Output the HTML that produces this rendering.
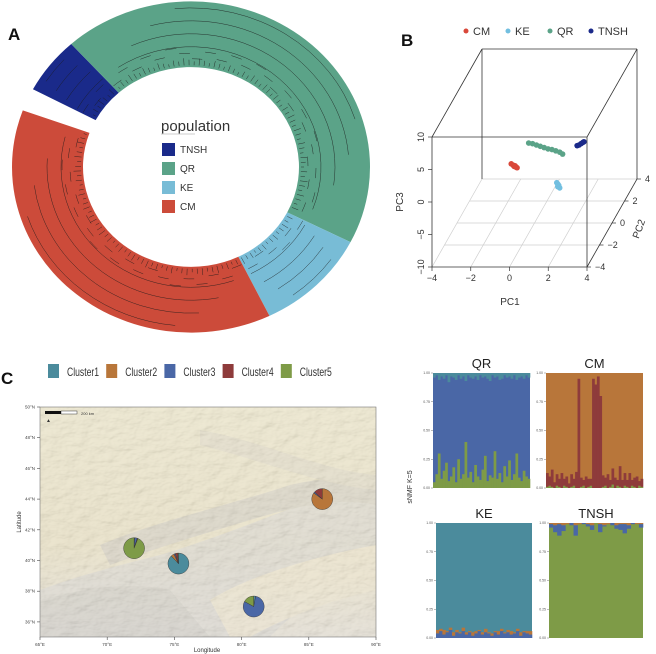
<!DOCTYPE html>
<html><head><meta charset="utf-8"><style>
html,body{margin:0;padding:0;background:#fff;}
body{width:656px;height:654px;position:relative;overflow:hidden;font-family:"Liberation Sans",Arial,sans-serif;}
svg{position:absolute;left:0;top:0;}
</style></head><body>
<svg id="fig" width="656" height="654" viewBox="0 0 656 654" xmlns="http://www.w3.org/2000/svg">
<defs>
<filter id="relief" x="0" y="0" width="100%" height="100%">
<feTurbulence type="fractalNoise" baseFrequency="0.07 0.12" numOctaves="3" seed="4" result="n"/>
<feDiffuseLighting in="n" surfaceScale="2.5" lighting-color="#ffffff" result="l"><feDistantLight azimuth="225" elevation="55"/></feDiffuseLighting>
<feComposite in="l" in2="SourceGraphic" operator="in"/>
</filter>
<linearGradient id="mapg" x1="0" y1="0" x2="0" y2="1">
<stop offset="0" stop-color="#ebe5cb"/><stop offset="0.6" stop-color="#e7dfc4"/><stop offset="1" stop-color="#e2ddd2"/>
</linearGradient>
</defs>
<g id="panelA"></g>
<g id="panelB"></g>
<g id="panelC"></g>
<g id="panelD"></g>
</svg>
<script>
// ---------- data ----------
const popNames = ["TNSH","QR","KE","CM"];
const popColors = ["#1a2a8a","#5ba388","#78bcd6","#cc4b3a"];
const popStartDeg = [298,318,477,514];
const popEndDeg = [318,477,514,650];

const pcaGroups = ["CM","KE","QR","TNSH"];
const pcaColors = ["#d9483a","#72bfe0","#5ba388","#1b2a8a"];
const cmPC1 = [-1.2,-1.1,-1.0,-0.95,-0.9,-1.05];
const cmPC3 = [-0.9,-1.1,-1.2,-1.4,-1.5,-1.3];
const kePC1 = [1.15,1.2,1.25,1.2,1.3];
const kePC3 = [-3.8,-4.0,-4.2,-4.4,-4.6];
const qrPC1 = [-0.3,-0.1,0.1,0.3,0.5,0.7,0.9,1.1,1.3,1.45];
const qrPC3 = [2.3,2.2,2.0,1.8,1.6,1.4,1.3,1.1,0.9,0.6];
const tnPC1 = [2.2,2.3,2.4,2.5,2.55];
const tnPC3 = [1.9,2.0,2.2,2.4,2.5];

const clusterNames = ["Cluster1","Cluster2","Cluster3","Cluster4","Cluster5"];
const clusterColors = ["#4b8b9c","#b8763a","#4a67a6","#8e3b3b","#7e9b47"];
const siteLon = [72.0,75.3,80.9,86.0];
const siteLat = [40.8,39.8,37.0,44.0];
const siteC1 = [0.01,0.88,0.03,0.0];
const siteC2 = [0.0,0.05,0.0,0.85];
const siteC3 = [0.04,0.02,0.80,0.02];
const siteC4 = [0.01,0.04,0.0,0.13];
const siteC5 = [0.94,0.01,0.17,0.0];
const lonTicks = [65,70,75,80,85,90];
const latTicks = [36,38,40,42,44,46,48,50];

const qrGreen = [0.05,0.12,0.3,0.08,0.15,0.22,0.06,0.1,0.18,0.05,0.25,0.08,0.12,0.4,0.09,0.14,0.05,0.2,0.1,0.07,0.16,0.28,0.06,0.11,0.09,0.32,0.08,0.13,0.05,0.19,0.1,0.24,0.07,0.12,0.3,0.09,0.06,0.15,0.1,0.08];
const qrTeal = [0.04,0.02,0.06,0.03,0.05,0.02,0.08,0.03,0.04,0.06,0.02,0.05,0.03,0.07,0.02,0.04,0.05,0.03,0.06,0.02,0.04,0.03,0.05,0.07,0.02,0.04,0.03,0.06,0.05,0.02,0.04,0.03,0.05,0.02,0.06,0.04,0.03,0.05,0.02,0.04];
const cmRed = [0.12,0.08,0.15,0.05,0.1,0.07,0.13,0.06,0.09,0.04,0.11,0.06,0.14,0.95,0.08,0.05,0.1,0.07,0.06,0.95,0.9,0.97,0.8,0.1,0.07,0.12,0.06,0.14,0.09,0.05,0.18,0.07,0.11,0.06,0.13,0.05,0.08,0.1,0.04,0.07];
const cmGreen = [0.01,0.02,0.01,0.0,0.02,0.01,0.0,0.02,0.01,0.0,0.01,0.02,0.0,0.0,0.01,0.02,0.0,0.01,0.02,0.0,0.0,0.0,0.0,0.01,0.02,0.0,0.01,0.03,0.0,0.02,0.01,0.0,0.02,0.01,0.0,0.02,0.01,0.0,0.02,0.01];
const keBlue = [0.04,0.06,0.03,0.05,0.07,0.02,0.05,0.04,0.06,0.03,0.05,0.02,0.04,0.06,0.03,0.05,0.04,0.02,0.05,0.03,0.06,0.04,0.05,0.03,0.04,0.06,0.02,0.05,0.04,0.03];
const keOrange = [0.03,0.02,0.04,0.01,0.02,0.03,0.02,0.01,0.03,0.02,0.01,0.03,0.02,0.01,0.02,0.03,0.01,0.02,0.01,0.03,0.02,0.01,0.02,0.03,0.01,0.02,0.03,0.01,0.02,0.03];
const tnBlue = [0.03,0.06,0.1,0.05,0.0,0.02,0.09,0.0,0.01,0.02,0.04,0.0,0.07,0.01,0.0,0.02,0.03,0.05,0.08,0.03,0.01,0.0,0.03];
const tnOrange = [0.01,0.02,0.01,0.02,0.01,0.0,0.02,0.01,0.0,0.01,0.02,0.0,0.01,0.02,0.01,0.0,0.02,0.01,0.01,0.02,0.0,0.01,0.01];

// ---------- helpers ----------
const NS="http://www.w3.org/2000/svg";
function mk(tag,attrs,parent){const e=document.createElementNS(NS,tag);for(const k in attrs)e.setAttribute(k,attrs[k]);if(parent)parent.appendChild(e);return e;}
function txt(parent,x,y,s,size,extra){const t=mk('text',Object.assign({x:x,y:y,'font-size':size,'font-family':'Liberation Sans, Arial, sans-serif',fill:'#222'},extra||{}),parent);t.textContent=s;return t;}

// ---------- Panel A ----------
const A=document.getElementById('panelA');
let lab=txt(A,8,40,"A",17,{'font-weight':'bold',fill:'#111'});


const ring=mk('g',{transform:'translate(191,167) scale(1,0.925)'},A);
const Ro=179,Ri=108;
function pt(r,d){const a=d*Math.PI/180;return [r*Math.sin(a),-r*Math.cos(a)];}
function sector(r1,r2,d1,d2){const la=(d2-d1)>180?1:0;const p1=pt(r2,d1),p2=pt(r2,d2),p3=pt(r1,d2),p4=pt(r1,d1);
return `M${p1[0]},${p1[1]}A${r2},${r2} 0 ${la} 1 ${p2[0]},${p2[1]}L${p3[0]},${p3[1]}A${r1},${r1} 0 ${la} 0 ${p4[0]},${p4[1]}Z`;}
function arc(r,d1,d2){const la=(d2-d1)>180?1:0;const p1=pt(r,d1),p2=pt(r,d2);return `M${p1[0]},${p1[1]}A${r},${r} 0 ${la} 1 ${p2[0]},${p2[1]}`;}
for(let i=0;i<popNames.length;i++){
  const s=mk('path',{d:sector(Ri,Ro,popStartDeg[i],popEndDeg[i]),fill:popColors[i]},ring);
  
  
}
const tree=mk('g',{stroke:'#1a1a1a','stroke-width':0.5,fill:'none',opacity:0.85},ring);


for(let i=0;i<popNames.length;i++){
  const d1=popStartDeg[i],d2=popEndDeg[i],span=d2-d1;
  for(let k=0;k<4;k++){const r=Ri+22+k*14;const a1=d1+span*(0.05+0.06*k),a2=d2-span*(0.04+0.08*k);if(a2>a1)mk('path',{d:arc(r,a1,a2)},tree);}
  for(let a=d1+2;a<d2-1;a+=2.6){const p=pt(Ri+2,a),q=pt(Ri+5+((a*7)%5),a);mk('path',{d:`M${p[0]},${p[1]}L${q[0]},${q[1]}`},tree);}
  for(let a=d1+3;a<d2-2;a+=6){const r=Ri+8+((a*13)%14);mk('path',{d:arc(r,a-2.5,a+2.5)},tree);}
}
const leg=mk('g',{},A);


txt(leg,161,131,"population",15,{fill:'#333'});
mk('line',{x1:161,y1:134,x2:195,y2:134,stroke:'#ccc','stroke-width':1},leg);
for(let i=0;i<popNames.length;i++){
  const y=143+i*19;
  const r=mk('rect',{x:162,y:y,width:13,height:13,fill:popColors[i]},leg);
  
  
  txt(leg,180,y+10,popNames[i],10,{fill:'#333'});
}

// ---------- Panel B ----------
const B=document.getElementById('panelB');
lab=txt(B,401,46,"B",17,{'font-weight':'bold',fill:'#111'});


function px(pc1,pc2,pc3){return 432+(pc1+4)/8*155+(pc2+4)/8*50;}
function py(pc1,pc2,pc3){return 267-(pc3+10)/20*130-(pc2+4)/8*88;}
const grid=mk('g',{stroke:'#cfcfcf','stroke-width':0.7},B);


[-2,0,2].forEach(v=>mk('line',{x1:px(v,-4,-10),y1:py(v,-4,-10),x2:px(v,4,-10),y2:py(v,4,-10)},grid));
[-2,0,2].forEach(v=>mk('line',{x1:px(-4,v,-10),y1:py(-4,v,-10),x2:px(4,v,-10),y2:py(4,v,-10)},grid));
mk('line',{x1:px(-4,4,-10),y1:py(-4,4,-10),x2:px(4,4,-10),y2:py(4,4,-10)},grid);
mk('line',{x1:px(-4,-4,-10),y1:py(-4,-4,-10),x2:px(-4,4,-10),y2:py(-4,4,-10)},grid);
const box=mk('g',{stroke:'#333','stroke-width':0.8,fill:'none'},B);


function L(a,b){mk('line',{x1:px(...a),y1:py(...a),x2:px(...b),y2:py(...b)},box);}
L([-4,-4,-10],[4,-4,-10]);L([-4,-4,-10],[-4,-4,10]);L([4,-4,-10],[4,-4,10]);L([-4,-4,10],[4,-4,10]);
L([4,-4,-10],[4,4,-10]);L([-4,-4,10],[-4,4,10]);L([4,-4,10],[4,4,10]);L([-4,4,10],[4,4,10]);
L([4,4,-10],[4,4,10]);L([-4,4,-10],[-4,4,10]);
const ax=mk('g',{'font-size':9,fill:'#333'},B);
[-4,-2,0,2,4].forEach(v=>{const x=px(v,-4,-10),y=py(v,-4,-10);mk('line',{x1:x,y1:y,x2:x,y2:y+4,stroke:'#333','stroke-width':0.7},ax);txt(ax,x,y+14,v<0?'\u2212'+(-v):String(v),9,{'text-anchor':'middle',fill:'#333'});});
[-10,-5,0,5,10].forEach(v=>{const x=px(-4,-4,v),y=py(-4,-4,v);mk('line',{x1:x,y1:y,x2:x-4,y2:y,stroke:'#333','stroke-width':0.7},ax);txt(ax,0,0,v<0?'\u2212'+(-v):String(v),9,{'text-anchor':'middle',fill:'#333',transform:`translate(${x-8},${y}) rotate(-90)`});});
[-4,-2,0,2,4].forEach(v=>{const x=px(4,v,-10),y=py(4,v,-10);mk('line',{x1:x,y1:y,x2:x+4,y2:y,stroke:'#333','stroke-width':0.7},ax);txt(ax,x+8,y+3,v<0?'\u2212'+(-v):String(v),9,{fill:'#333'});});
txt(ax,510,305,"PC1",10,{'text-anchor':'middle',fill:'#333'});
txt(ax,0,0,"PC3",10,{'text-anchor':'middle',fill:'#333',transform:'translate(403,202) rotate(-90)'});
txt(ax,0,0,"PC2",10,{'text-anchor':'middle',fill:'#333',transform:'translate(642,230) rotate(-70)'});
const pcs=[[cmPC1,cmPC3],[kePC1,kePC3],[qrPC1,qrPC3],[tnPC1,tnPC3]];
for(let g=0;g<pcs.length;g++){
  const gg=mk('g',{fill:pcaColors[g]},B);
  
  
  for(let i=0;i<pcs[g][0].length;i++){mk('circle',{cx:px(pcs[g][0][i],0,pcs[g][1][i]),cy:py(pcs[g][0][i],0,pcs[g][1][i]),r:2.8},gg);}
  const lx=[466,508,550,591][g];
  const le=mk('g',{},B);
  
  
  mk('circle',{cx:lx,cy:31,r:2.5,fill:pcaColors[g]},le);
  txt(le,lx+7,35,pcaGroups[g],11,{fill:'#333'});
}

// ---------- Panel C map ----------
const M=document.getElementById('panelC');
lab=txt(M,1,384,"C",17,{'font-weight':'bold',fill:'#111'});


for(let i=0;i<5;i++){
  const x=48+i*58.2;
  const g=mk('g',{},M);
  
  
  mk('rect',{x:x,y:364,width:11,height:14,fill:clusterColors[i]},g);
  txt(g,x+19,376,clusterNames[i],12,{fill:'#333',textLength:32,lengthAdjust:'spacingAndGlyphs'});
}
const mx0=40,mx1=376,my0=407,my1=637;
function lonX(l){return mx0+(l-65)/25*(mx1-mx0);}
function latY2(l){return 407+(50-l)*15.35;}
const mapg=mk('g',{},M);


mk('rect',{x:mx0,y:my0,width:mx1-mx0,height:my1-my0,fill:'url(#mapg)'},mapg);
const relief=mk('g',{opacity:0.6},mapg);
mk('path',{d:`M40,637 L40,590 C80,575 120,565 160,555 C210,540 260,520 300,505 C330,495 360,500 376,505 L376,565 C340,580 300,605 270,637 Z`,fill:'#d6d4cf'},relief);
mk('path',{d:`M100,545 C160,520 230,505 290,485 C330,475 360,480 376,485 L376,505 C340,497 300,505 250,520 C200,535 150,550 110,565 Z`,fill:'#cfcbc2'},relief);
mk('path',{d:`M40,600 C80,590 120,580 170,590 L210,637 L40,637 Z`,fill:'#c9c7c3'},relief);
mk('path',{d:`M210,600 C250,575 320,555 376,545 L376,590 C330,600 280,620 250,637 L230,637 Z`,fill:'#ece3cc'},relief);
mk('path',{d:`M200,430 C260,440 320,470 376,475 L376,490 C320,485 260,460 200,445 Z`,fill:'#ddd7c6'},relief);
mk('rect',{x:mx0,y:my0,width:mx1-mx0,height:my1-my0,fill:'#999',filter:'url(#relief)',opacity:0.18},mapg);
mk('rect',{x:mx0,y:my0,width:mx1-mx0,height:my1-my0,fill:'none',stroke:'#777','stroke-width':0.6},mapg);
mk('rect',{x:45,y:411,width:16,height:3,fill:'#111'},mapg);
mk('rect',{x:61,y:411,width:16,height:3,fill:'#fff',stroke:'#111','stroke-width':0.4},mapg);
txt(mapg,81,415,"200 km",4,{fill:'#333'});
txt(mapg,46,422,"\u25B2",5,{fill:'#333'});
const mt=mk('g',{},M);


lonTicks.forEach(v=>{const x=lonX(v);mk('line',{x1:x,y1:637,x2:x,y2:640,stroke:'#444','stroke-width':0.6},mt);txt(mt,x,646,v+"°E",4.5,{'text-anchor':'middle',fill:'#444'});});
latTicks.forEach(v=>{const y=latY2(v);mk('line',{x1:37,y1:y,x2:40,y2:y,stroke:'#444','stroke-width':0.6},mt);txt(mt,35,y+1.5,v+"°N",4.5,{'text-anchor':'end',fill:'#444'});});
txt(mt,207,652,"Longitude",6,{'text-anchor':'middle',fill:'#333'});
txt(mt,0,0,"Latitude",6,{'text-anchor':'middle',fill:'#333',transform:'translate(21,522) rotate(-90)'});
const comps=[siteC1,siteC2,siteC3,siteC4,siteC5];
for(let s=0;s<siteLon.length;s++){
  const cx=lonX(siteLon[s]),cy=latY2(siteLat[s]),r=10.5;
  const pg=mk('g',{stroke:'#333','stroke-width':0.4},M);
  
  
  let tot=0;comps.forEach(c=>tot+=c[s]);
  let a=0;
  for(let k=0;k<5;k++){
    const f=comps[k][s]/tot;if(f<=0)continue;
    const a1=a,a2=a+f*360;a=a2;
    if(f>0.999){mk('circle',{cx:cx,cy:cy,r:r,fill:clusterColors[k]},pg);continue;}
    const p1=[cx+r*Math.sin(a1*Math.PI/180),cy-r*Math.cos(a1*Math.PI/180)],p2=[cx+r*Math.sin(a2*Math.PI/180),cy-r*Math.cos(a2*Math.PI/180)];
    mk('path',{d:`M${cx},${cy}L${p1[0]},${p1[1]}A${r},${r} 0 ${(a2-a1)>180?1:0} 1 ${p2[0]},${p2[1]}Z`,fill:clusterColors[k]},pg);
  }
}

// ---------- Admixture panels ----------
const D=document.getElementById('panelD');
txt(D,0,0,"sNMF K=5",7,{'text-anchor':'middle',fill:'#333',transform:'translate(412,487) rotate(-90)'});
function admix(name,x0,y0,w,h,layers){
  const g=mk('g',{},D);
  
  
  mk('rect',{x:x0,y:y0,width:w,height:h,fill:layers.base},g);
  const n=layers.bottom.length?layers.bottom[0].vals.length:layers.top[0].vals.length;
  const bw=w/n;
  for(let i=0;i<n;i++){
    let yb=y0+h;
    layers.bottom.forEach(l=>{const hh=l.vals[i]*h;yb-=hh;mk('rect',{x:x0+i*bw,y:yb,width:bw+0.3,height:hh,fill:l.color},g);});
    let yt=y0;
    layers.top.forEach(l=>{const hh=l.vals[i]*h;mk('rect',{x:x0+i*bw,y:yt,width:bw+0.3,height:hh,fill:l.color},g);yt+=hh;});
  }
  txt(g,x0+w/2,y0-5,name,13,{'text-anchor':'middle',fill:'#222'});
  ["1.00","0.75","0.50","0.25","0.00"].forEach((t,k)=>{const y=y0+k*h/4;mk('line',{x1:x0-2,y1:y,x2:x0,y2:y,stroke:'#777','stroke-width':0.5},g);txt(g,x0-3,y+1.2,t,3.5,{'text-anchor':'end',fill:'#555'});});
}
admix("QR",433,373,97,115,{base:clusterColors[2],bottom:[{vals:qrGreen,color:clusterColors[4]}],top:[{vals:qrTeal,color:clusterColors[0]}]});
admix("CM",546,373,97,115,{base:clusterColors[1],bottom:[{vals:cmGreen,color:clusterColors[4]},{vals:cmRed,color:clusterColors[3]}],top:[]});
admix("KE",436,523,96,115,{base:clusterColors[0],bottom:[{vals:keBlue,color:clusterColors[2]},{vals:keOrange,color:clusterColors[1]}],top:[]});
admix("TNSH",549,523,94,115,{base:clusterColors[4],bottom:[],top:[{vals:tnOrange,color:clusterColors[1]},{vals:tnBlue,color:clusterColors[2]}]});
</script>
</body></html>
